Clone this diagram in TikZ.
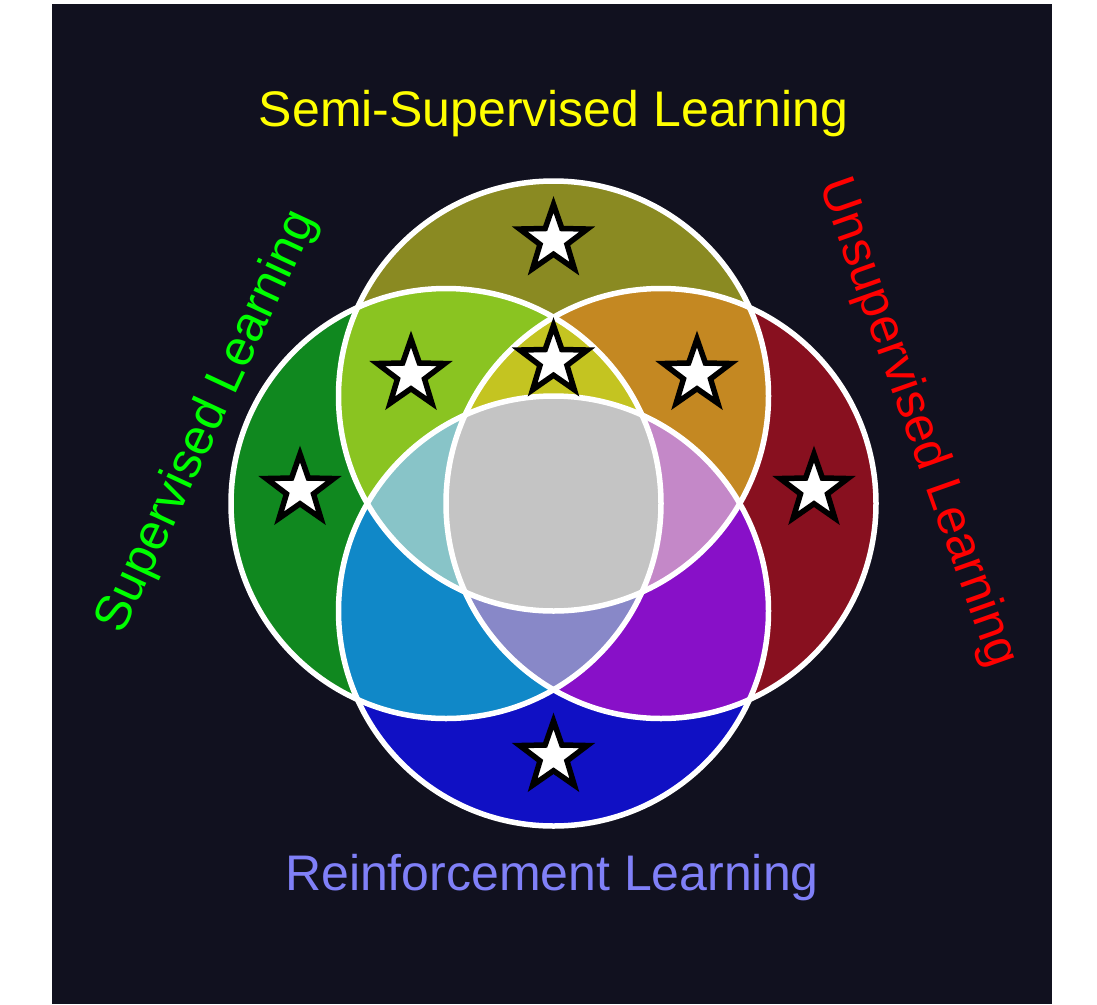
\documentclass[tikz,border=0pt]{standalone}
\usepackage{fontspec}
\setmainfont{Liberation Sans}
\usetikzlibrary{shapes.geometric}
\definecolor{bgc}{HTML}{11111F}
\definecolor{cT}{HTML}{8A8A22}
\definecolor{cL}{HTML}{10881F}
\definecolor{cR}{HTML}{88101F}
\definecolor{cB}{HTML}{1010C4}
\definecolor{cTL}{HTML}{8AC421}
\definecolor{cTR}{HTML}{C48822}
\definecolor{cLB}{HTML}{1088C8}
\definecolor{cRB}{HTML}{8810C8}
\definecolor{cTLR}{HTML}{C4C421}
\definecolor{cTLB}{HTML}{88C4C8}
\definecolor{cTRB}{HTML}{C488C8}
\definecolor{cLRB}{HTML}{8888C8}
\definecolor{cAll}{HTML}{C4C4C4}
\definecolor{txY}{HTML}{FFFF00}
\definecolor{txG}{HTML}{00FF00}
\definecolor{txR}{HTML}{FF0000}
\definecolor{txB}{HTML}{8080F8}
\def\pT{(553.5,396) circle (215)}
\def\pL{(446,503.5) circle (215)}
\def\pR{(661,503.5) circle (215)}
\def\pB{(553.5,611) circle (215)}
\begin{document}
\begin{tikzpicture}[x=1pt,y=-1pt,
  ring/.style={circle,draw=white,line width=5.5pt,minimum size=430pt,inner sep=0pt,outer sep=0pt},
  starnode/.style={star,star points=5,star point ratio=2.5,minimum size=71pt,inner sep=0pt,
    fill=white,draw=black,line width=5.5pt},
  lbl/.style={font=\fontsize{50}{60}\selectfont,inner sep=0pt}]
\useasboundingbox (0,0) rectangle (1097,1004);
\fill[white] (0,0) rectangle (1097,1004);
\fill[bgc] (52,4) rectangle (1052,1004);
% single regions
\fill[cT] \pT;
\fill[cL] \pL;
\fill[cR] \pR;
\fill[cB] \pB;
% pairs
\begin{scope}\clip \pT; \fill[cTL] \pL; \end{scope}
\begin{scope}\clip \pT; \fill[cTR] \pR; \end{scope}
\begin{scope}\clip \pL; \fill[cLB] \pB; \end{scope}
\begin{scope}\clip \pR; \fill[cRB] \pB; \end{scope}
% triples
\begin{scope}\clip \pT; \clip \pL; \fill[cTLR] \pR; \end{scope}
\begin{scope}\clip \pT; \clip \pL; \fill[cTLB] \pB; \end{scope}
\begin{scope}\clip \pT; \clip \pR; \fill[cTRB] \pB; \end{scope}
\begin{scope}\clip \pL; \clip \pR; \fill[cLRB] \pB; \end{scope}
% all four
\begin{scope}\clip \pT; \clip \pL; \clip \pR; \fill[cAll] \pB; \end{scope}
% outlines
\node[ring] (setT) at (553.5,396) {};
\node[ring] (setL) at (446,503.5) {};
\node[ring] (setR) at (661,503.5) {};
\node[ring] (setB) at (553.5,611) {};
% stars
\node[starnode] (sT) at (553.5,240) {};
\node[starnode] (sTL) at (411,374.5) {};
\node[starnode] (sTLR) at (553.5,361) {};
\node[starnode] (sTR) at (697,374.5) {};
\node[starnode] (sL) at (300,489.5) {};
\node[starnode] (sR) at (814,489.5) {};
\node[starnode] (sB) at (553.5,756.5) {};
% labels
\node[lbl,text=txY,anchor=base] (lSemi) at (553.5,126) {Semi-Supervised Learning};
\node[lbl,text=txB,anchor=base] (lRein) at (552,890) {Reinforcement Learning};
\node[lbl,text=txG,rotate=65] (lSup) at (208,422) {Supervised Learning};
\node[lbl,text=txR,rotate=-70.5] (lUns) at (917,423) {Unsupervised Learning};
\end{tikzpicture}
\end{document}
